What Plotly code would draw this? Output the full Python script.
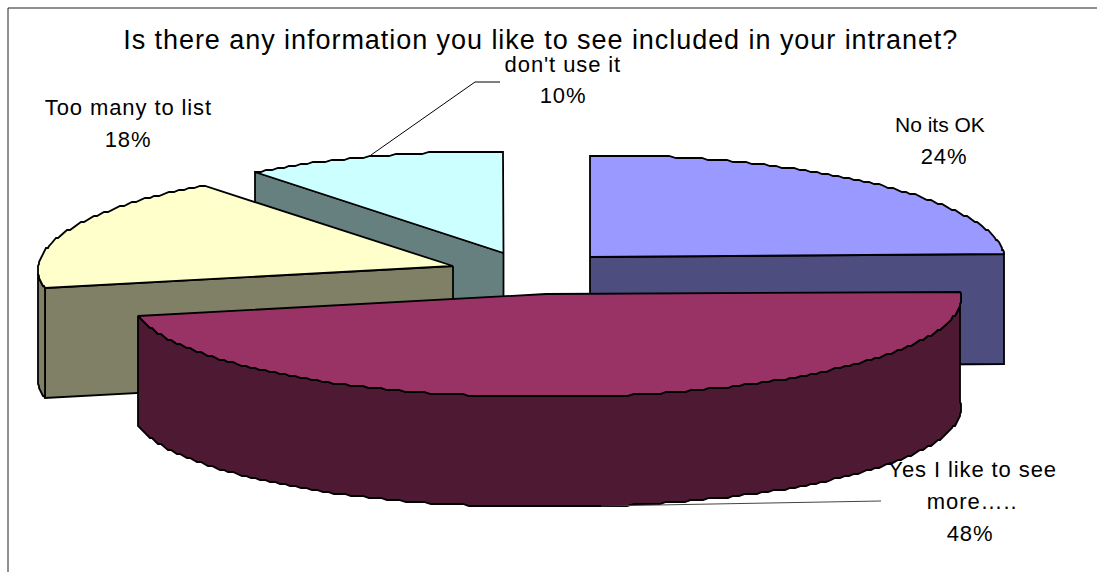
import numpy as np
import plotly.graph_objects as go

# --- data ---
categories = ["No its OK", "Yes I like to see more…..", "Too many to list", "don't use it"]
values = [24, 48, 17.8, 10.2]
title_text = "Is there any information you like to see included in your intranet?"
top_colors = ["#9999FF", "#993366", "#FFFFCC", "#CCFFFF"]
side_colors = ["#4D4D80", "#4D1933", "#808066", "#668080"]

# --- layout of the drawing (pixels) ---
W, H = 1097, 572
apexes = [(590, 257), (546, 294), (453, 266), (503.5, 253)]
A = 415
B_BACK, B_FRONT = 106, 99
DY, DEPTH = 4, 110
LW = 1.8

def arc(apex, t0, t1):
    n = max(int(abs(t1 - t0) * 1.1), 2)
    th = np.radians(np.linspace(t0, t1, n))
    b = np.where(np.cos(th) > 0, B_BACK, B_FRONT)
    x = apex[0] + A * np.sin(th)
    y = apex[1] + DY - b * np.cos(th)
    # staircase like the reference's coarse rendering
    return np.round(x), np.round(y / 2) * 2

def poly(x, y, color):
    return go.Scatter(x=list(x) + [x[0]], y=list(y) + [y[0]], mode="lines", fill="toself",
                      fillcolor=color, line=dict(color="black", width=LW),
                      showlegend=False, hoverinfo="skip")

cum = np.concatenate([[0], np.cumsum(values)]) * 3.6
fig = go.Figure()

def slice_traces(i):
    t0, t1 = cum[i], cum[i + 1]
    ap = apexes[i]
    ax, ay = arc(ap, t0, t1)
    out = []
    if i == 0:
        out.append(poly([ap[0], ax[-1], ax[-1], ap[0]],
                        [ap[1], ay[-1], ay[-1] + DEPTH, ap[1] + DEPTH], side_colors[i]))
    if i == 2:
        out.append(poly([ap[0], ax[0], ax[0], ap[0]],
                        [ap[1], ay[0], ay[0] + DEPTH, ap[1] + DEPTH], side_colors[i]))
        k = int(np.argmin(ax))
        out.append(poly(list(ax[:k + 1]) + list(ax[:k + 1][::-1]),
                        list(ay[:k + 1]) + list((ay[:k + 1] + DEPTH)[::-1]), side_colors[i]))
    if i == 3:
        out.append(poly([ap[0], ax[0], ax[0], ap[0]],
                        [ap[1], ay[0], ay[0] + DEPTH, ap[1] + DEPTH], side_colors[i]))
    if i == 1:
        out.append(poly(list(ax) + list(ax[::-1]),
                        list(ay) + list((ay + DEPTH)[::-1]), side_colors[i]))
    out.append(poly([ap[0]] + list(ax), [ap[1]] + list(ay), top_colors[i]))
    return out

for i in [3, 2, 0, 1]:
    for tr in slice_traces(i):
        fig.add_trace(tr)

# leader lines and frame
def seg(x, y, color="black", width=1):
    fig.add_trace(go.Scatter(x=x, y=y, mode="lines", line=dict(color=color, width=width),
                             showlegend=False, hoverinfo="skip"))

seg([500, 475, 371], [82, 82, 155])
seg([601, 881], [506, 501], "#444444")
seg([8, 8], [H, 8], "#222222")
seg([8, W], [8, 8], "#222222")

FONT = "Liberation Sans, Arial, sans-serif"
def text(x, y, s, size=22):
    fig.add_annotation(x=x, y=y, text=s, showarrow=False, xanchor="center", yanchor="middle",
                       font=dict(family=FONT, size=size, color="black"))

text(540, 40, title_text, 27)
pct = [f"{round(v)}%" for v in values]
text(940, 124, categories[0], 21); text(944, 156, pct[0])
text(972, 469, "Yes I like to see"); text(972, 501, "more….."); text(970, 533, pct[1])
text(128, 107, categories[2]); text(128, 139, pct[2])
text(563, 64, categories[3]); text(563, 95, pct[3])

fig.update_layout(width=W, height=H, margin=dict(l=0, r=0, t=0, b=0),
                  paper_bgcolor="white", plot_bgcolor="white",
                  xaxis=dict(range=[0, W], visible=False, fixedrange=True),
                  yaxis=dict(range=[H, 0], visible=False, fixedrange=True))
script = """
document.body.style.margin='0';document.documentElement.style.overflow='hidden';
document.querySelectorAll('.annotation-text').forEach(function(t){
  var s=t.textContent;
  if(s.indexOf('No its')===0) return;
  t.style.letterSpacing = s.indexOf('Is there')===0 ? '0.95px' : '0.9px';
});
"""
fig.write_html("out.html", config={"displayModeBar": False}, post_script=script)
